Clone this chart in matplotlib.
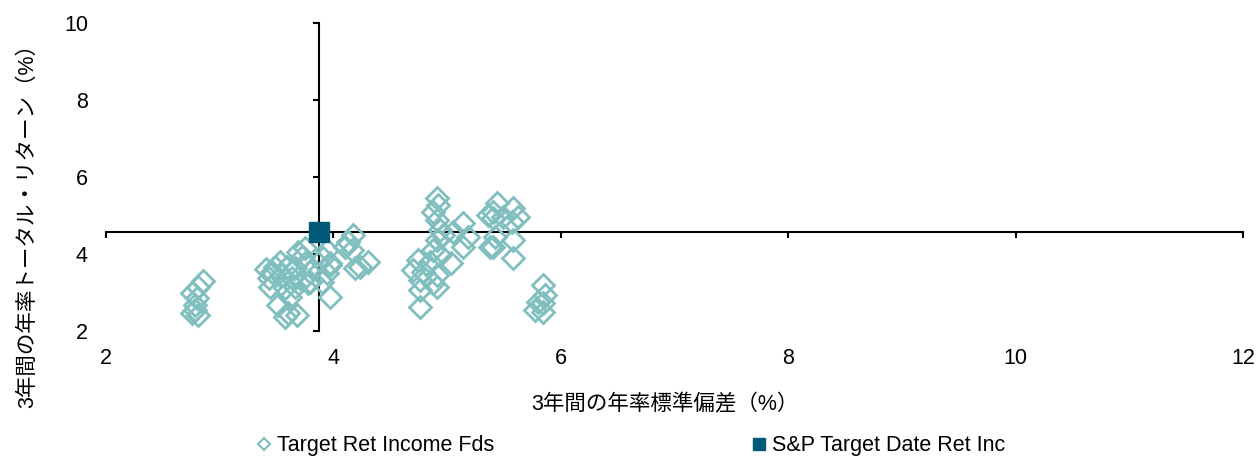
import matplotlib
matplotlib.use("Agg")
import matplotlib.pyplot as plt
from matplotlib.lines import Line2D

plt.rcParams['font.family'] = ['Liberation Sans', 'Noto Sans CJK JP', 'DejaVu Sans']

# ---- data ----
fund_std = [
    2.85, 2.81, 2.76, 2.80, 2.78, 2.76, 2.81, 2.78,
    3.75, 3.72, 3.53, 3.49, 3.59, 3.46, 3.66, 3.75, 3.79, 3.43, 3.55, 3.64,
    3.72, 3.79, 3.44, 3.57, 3.66, 3.78, 3.51, 3.62, 3.60, 3.68, 3.57, 3.97,
    3.91, 3.90, 3.94, 3.97, 3.94, 3.97, 3.69, 3.41,
    4.17, 4.13, 4.10, 4.16, 4.30, 4.23, 4.19,
    4.91, 4.92, 4.88, 4.91, 5.14, 5.36, 4.94, 4.96, 5.05, 5.18, 4.91, 5.14,
    5.38, 4.88, 4.94, 4.74, 4.85, 5.03, 4.70, 4.79, 4.91, 4.76, 4.88, 4.76,
    4.91, 4.76,
    5.44, 5.58, 5.40, 5.49, 5.62, 5.57, 5.40, 5.42, 5.58, 5.40, 5.58,
    5.84, 5.86, 5.80, 5.84, 5.77, 5.84,
]
fund_ret = [
    3.30, 3.14, 2.99, 2.86, 2.68, 2.47, 2.42, 2.55,
    4.16, 3.92, 3.79, 3.66, 3.66, 3.53, 3.64, 3.77, 3.53, 3.38, 3.45, 3.38,
    3.32, 3.27, 3.14, 3.12, 3.14, 3.25, 2.68, 2.88, 2.47, 2.42, 2.36, 3.71,
    3.90, 3.27, 4.10, 3.77, 3.51, 2.88, 4.05, 3.60,
    4.49, 4.31, 4.18, 4.10, 3.79, 3.66, 3.64,
    5.45, 5.27, 5.09, 4.88, 4.81, 5.01, 4.62, 4.49, 4.57, 4.44, 4.36, 4.18,
    4.18, 4.10, 3.97, 3.84, 3.79, 3.77, 3.58, 3.53, 3.45, 3.32, 3.25, 3.06,
    3.14, 2.62,
    5.32, 5.19, 5.09, 4.96, 4.96, 4.83, 4.94, 4.44, 4.36, 4.18, 3.90,
    3.19, 2.94, 2.75, 2.73, 2.55, 2.49,
]
bench_std = [3.87]
bench_ret = [4.57]

x_ticks = [2, 4, 6, 8, 10, 12]
y_ticks = [2, 4, 6, 8, 10]
series_names = ["Target Ret Income Fds", "S&P Target Date Ret Inc"]
x_label = "3年間の年率標準偏差（%）"
y_label = "3年間の年率トータル・リターン（%）"

fund_color = "#80BEC0"
bench_color = "#005A78"
fs = 15.5

fig = plt.figure(figsize=(12.57, 4.59), dpi=100)
rect = [106/1257, 1 - 331/459, (1243-106)/1257, (331-23)/459]

# label axes (tick labels at the low edges)
axl = fig.add_axes(rect)
axl.set_xlim(2, 12)
axl.set_ylim(2, 10)
for s in axl.spines.values():
    s.set_visible(False)
axl.set_xticks(x_ticks)
axl.set_yticks(y_ticks)
axl.set_xticklabels([str(v) for v in x_ticks], fontsize=fs)
axl.set_yticklabels([str(v) for v in y_ticks], fontsize=fs)
axl.tick_params(axis='x', length=0, pad=12)
axl.tick_params(axis='y', length=0, pad=13)
axl.patch.set_visible(False)

# data axes with crossing spines
ax = fig.add_axes(rect, sharex=axl, sharey=axl)
ax.patch.set_visible(False)
ax.spines['top'].set_visible(False)
ax.spines['right'].set_visible(False)
ax.spines['left'].set_position(('data', bench_std[0]))
ax.spines['bottom'].set_position(('data', bench_ret[0]))
ax.spines['left'].set_linewidth(1.5)
ax.spines['bottom'].set_linewidth(1.5)
ax.tick_params(axis='both', direction='out', length=4, width=1.5,
               labelleft=False, labelbottom=False)

ax.plot(fund_std, fund_ret, linestyle='none', marker='D', markersize=11.5,
        markerfacecolor='none', markeredgecolor=fund_color, markeredgewidth=2,
        zorder=3)
ax.plot(bench_std, bench_ret, linestyle='none', marker='s', markersize=14,
        markerfacecolor=bench_color, markeredgecolor=bench_color, zorder=4)

fig.text(665/1257, 1 - 405/459, x_label, fontsize=fs, ha='center', va='center')
fig.text(28/1257, 1 - 220/459, y_label, fontsize=fs, ha='center', va='center',
         rotation=90)

handles = [
    Line2D([], [], linestyle='none', marker='D', markersize=6,
           markerfacecolor='none', markeredgecolor=fund_color, markeredgewidth=1.5),
    Line2D([], [], linestyle='none', marker='s', markersize=8,
           markerfacecolor=bench_color, markeredgecolor=bench_color),
]
fig.legend(handles, series_names, loc='center', bbox_to_anchor=(631/1257, 1 - 446/459),
           ncol=2, frameon=False, fontsize=fs, handlelength=0.6, handletextpad=0.3,
           columnspacing=12.0, borderaxespad=0, borderpad=0)

fig.savefig("out.png", dpi=100)
